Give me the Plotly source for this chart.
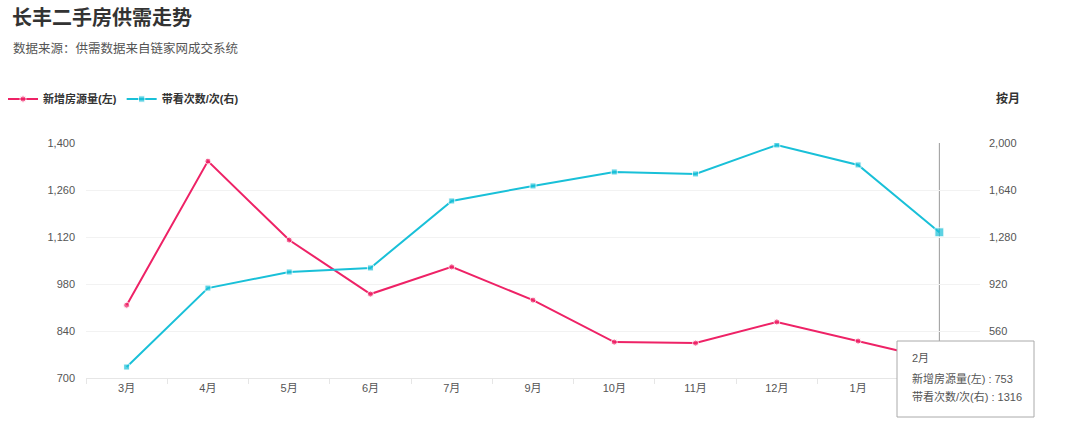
import plotly.graph_objects as go

months = ["3月", "4月", "5月", "6月", "7月", "9月", "10月", "11月", "12月", "1月", "2月"]
new_listings = [917, 1346, 1111, 950, 1031, 932, 807, 804, 867, 810, 753]
viewings = [284, 889, 1012, 1043, 1556, 1671, 1778, 1763, 1985, 1832, 1316]

left_ticks = [700, 840, 980, 1120, 1260, 1400]
right_ticks = [560, 920, 1280, 1640, 2000]  # the 200 label sits under the tooltip
shown_month_labels = months[:-1]            # the 2月 label sits under the tooltip

RED = "#EE2266"
CYAN = "#19C0D8"
FONT = "Liberation Sans, Noto Sans CJK SC, sans-serif"

W, H = 1080, 438
L, R, T, B = 86, 100, 143, 60

fig = go.Figure()
fig.add_trace(go.Scatter(
    x=months, y=new_listings, name="新增房源量(左)", mode="lines+markers",
    line=dict(color=RED, width=2),
    marker=dict(symbol="circle", size=[6] * (len(months) - 1) + [9], color=RED),
    yaxis="y",
))
fig.add_trace(go.Scatter(
    x=months, y=viewings, name="带看次数/次(右)", mode="lines+markers",
    line=dict(color=CYAN, width=2),
    marker=dict(symbol="square", size=[6] * (len(months) - 1) + [9], color=CYAN),
    yaxis="y2",
))

pw = W - L - R
ph = H - T - B

def px_x(p):
    return (p - L) / pw

def px_y(p):
    return (H - B - p) / ph

fig.update_layout(
    width=W, height=H,
    margin=dict(l=L, r=R, t=T, b=B, autoexpand=False),
    paper_bgcolor="white", plot_bgcolor="white",
    font=dict(family=FONT, size=11, color="#555"),
    showlegend=True,
    legend=dict(
        orientation="h", x=px_x(3), y=px_y(99), xanchor="left", yanchor="middle",
        font=dict(size=11, color="#333", family=FONT, weight="bold"),
        itemwidth=30, tracegroupgap=0, bgcolor="rgba(0,0,0,0)",
    ),
    xaxis=dict(
        type="category", range=[-0.5, len(months) - 0.5],
        categoryorder="array", categoryarray=months,
        tickmode="array", tickvals=shown_month_labels,
        showgrid=False, showline=True, linecolor="#e6e6e6",
        ticks="outside", tickson="boundaries", ticklen=5, tickcolor="#e6e6e6",
        tickfont=dict(size=11, color="#555"), zeroline=False, fixedrange=True,
    ),
    yaxis=dict(
        range=[700, 1400], tickvals=left_ticks, tickformat=",",
        showgrid=True, gridcolor="#f2f2f2", zeroline=False, showline=False,
        tickfont=dict(size=11, color="#555"), ticklabelstandoff=10,
    ),
    yaxis2=dict(
        range=[200, 2000], tickvals=right_ticks, tickformat=",",
        overlaying="y", side="right", showgrid=False, zeroline=False,
        tickfont=dict(size=11, color="#555"), ticklabelstandoff=8,
    ),
)

fig.add_shape(type="line", xref="x", yref="paper", x0="2月", x1="2月", y0=0, y1=1,
              line=dict(color="#999", width=1), layer="below")

fig.add_annotation(xref="paper", yref="paper", x=px_x(10), y=px_y(18),
                   xanchor="left", yanchor="middle", showarrow=False,
                   text="<b>长丰二手房供需走势</b>",
                   font=dict(size=20, color="#333", family=FONT))
fig.add_annotation(xref="paper", yref="paper", x=px_x(11), y=px_y(48),
                   xanchor="left", yanchor="middle", showarrow=False,
                   text="数据来源：供需数据来自链家网成交系统",
                   font=dict(size=12.5, color="#555", family=FONT))
fig.add_annotation(xref="paper", yref="paper", x=px_x(1008), y=px_y(99),
                   xanchor="center", yanchor="middle", showarrow=False,
                   text="<b>按月</b>",
                   font=dict(size=12, color="#333", family=FONT))

# tooltip box
fig.add_shape(type="rect", xref="paper", yref="paper",
              x0=px_x(897), x1=px_x(1034), y0=px_y(417), y1=px_y(341),
              line=dict(color="#aaa", width=1), fillcolor="white", layer="above")
tip_lines = ["2月",
             "新增房源量(左) : %d" % new_listings[-1],
             "带看次数/次(右) : %d" % viewings[-1]]
tip_y = [358, 378, 396]
for txt, yy in zip(tip_lines, tip_y):
    fig.add_annotation(xref="paper", yref="paper", x=px_x(910), y=px_y(yy),
                       xanchor="left", yanchor="middle", showarrow=False, align="left",
                       text=txt, font=dict(size=11, color="#555", family=FONT))

fig.write_html("out.html", config={"displayModeBar": False},
               post_script="document.body.style.margin='0';")
